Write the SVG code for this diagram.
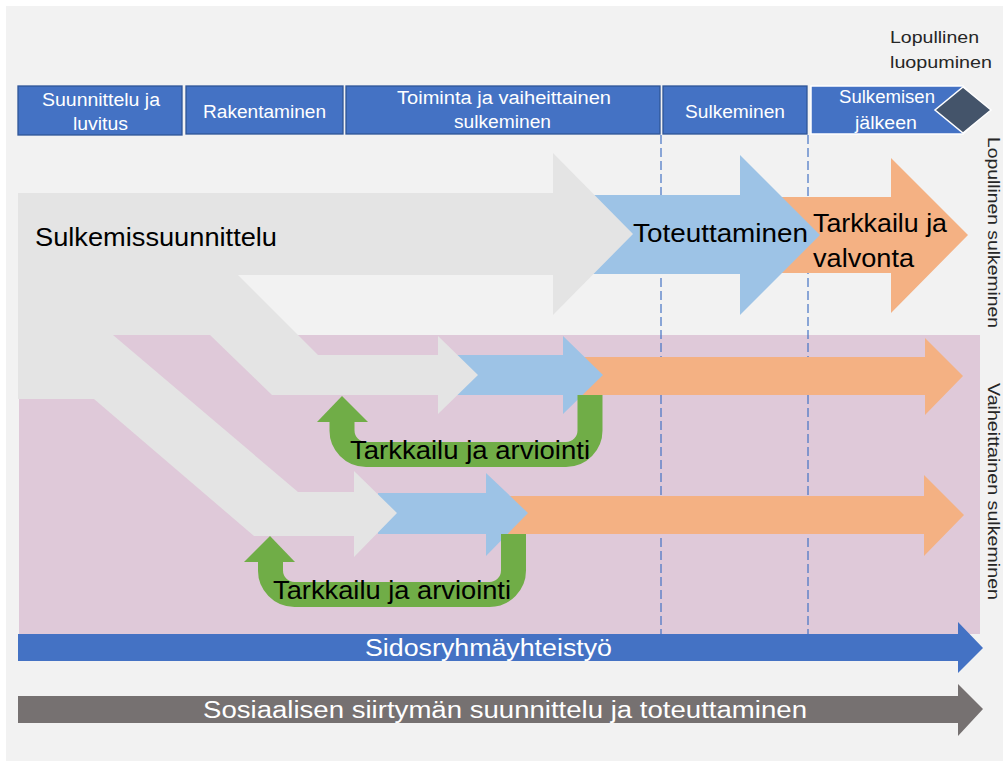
<svg xmlns="http://www.w3.org/2000/svg" width="1003" height="765" viewBox="0 0 1003 765">
<style>
text{font-family:"Liberation Sans",Arial,sans-serif}
.ph{fill:#4472c4;stroke:#2f5597;stroke-width:1.3}
.phw{fill:#4472c4;stroke:#ffffff;stroke-width:1.5}
.pt{fill:#ffffff;font-size:18px;text-anchor:middle}
.big{fill:#000000;font-size:26px}
.mid{fill:#000000;font-size:25px}
.side{fill:#262626;font-size:17px;text-anchor:middle}
.gray{fill:#e4e4e4}
.blue{fill:#9dc3e6}
.orange{fill:#f4b183}
.dash{stroke:#4472c4;stroke-width:1.2;stroke-dasharray:9 4;fill:none}
.loop{fill:none;stroke:#70ad47;stroke-width:25}
.loophead{fill:#70ad47}
.band{font-size:23px;fill:#ffffff}
</style>
<rect x="6" y="6" width="997" height="755" fill="#f2f2f2"/>
<rect id="phased-area" x="19" y="335" width="961" height="299" fill="#dfc9d9"/>
<g id="guides">
<line class="dash" x1="661" y1="135" x2="661" y2="634"/>
<line class="dash" x1="808" y1="135" x2="808" y2="634"/>
</g>
<g id="phases">
<g id="phase-1"><rect class="ph" x="18" y="86" width="164" height="49"/>
<text class="pt" x="101" y="106" textLength="118" lengthAdjust="spacingAndGlyphs">Suunnittelu ja</text>
<text class="pt" x="100.5" y="130" textLength="55" lengthAdjust="spacingAndGlyphs">luvitus</text></g>
<g id="phase-2"><rect class="ph" x="186" y="86" width="157" height="48"/>
<text class="pt" x="264.5" y="118" textLength="123" lengthAdjust="spacingAndGlyphs">Rakentaminen</text></g>
<g id="phase-3"><rect class="ph" x="346" y="86" width="314" height="48"/>
<text class="pt" x="504" y="104" textLength="214" lengthAdjust="spacingAndGlyphs">Toiminta ja vaiheittainen</text>
<text class="pt" x="502.5" y="128" textLength="97" lengthAdjust="spacingAndGlyphs">sulkeminen</text></g>
<g id="phase-4"><rect class="ph" x="663" y="86" width="144" height="48"/>
<text class="pt" x="735" y="118" textLength="100" lengthAdjust="spacingAndGlyphs">Sulkeminen</text></g>
<g id="phase-5"><polygon class="phw" points="811,86 963,86 987,110 963,134 811,134"/>
<text class="pt" x="887" y="103" textLength="96" lengthAdjust="spacingAndGlyphs">Sulkemisen</text>
<text class="pt" x="886" y="129" textLength="62" lengthAdjust="spacingAndGlyphs">jälkeen</text></g>
<g id="milestone"><polygon points="963,87 991,110 963,133 935,110" fill="#44546a" stroke="#ffffff" stroke-width="1.5"/>
<text x="890" y="43" font-size="16" fill="#262626" textLength="89" lengthAdjust="spacingAndGlyphs">Lopullinen</text>
<text x="890" y="68" font-size="16" fill="#262626" textLength="102" lengthAdjust="spacingAndGlyphs">luopuminen</text></g>
</g>
<g id="row-final">
<polygon id="final-monitoring" class="orange" points="780,197 891,197 891,158 968,235 891,313 891,273 780,273"/>
<polygon id="final-implementation" class="blue" points="560,195 740,195 740,155 820,235 740,315 740,274 560,274"/>
</g>
<g id="row-1">
<polygon id="row1-monitoring" class="orange" points="565,357 925,357 925,338 963,376 925,415 925,395 565,395"/>
<polygon id="row1-implementation" class="blue" points="440,355 563,355 563,336 603,375 563,414 563,395 440,395"/>
</g>
<g id="row-2">
<polygon id="row2-monitoring" class="orange" points="508,496 924,496 924,475 964,515 924,556 924,534 508,534"/>
<polygon id="row2-implementation" class="blue" points="378,493 486,493 486,473 528,513 486,556 486,534 378,534"/>
</g>
<g id="closure-planning">
<polygon class="gray" points="18,193 553,193 553,153 633,234 553,315 553,275 238,275 318,355 438,355 438,336 478,375 438,414 438,395 272,395 210,335 113,335 298,492 354,492 354,471 397,513 354,557 354,536 254,536 94,399 18,399"/>
<text class="big" x="35" y="246" textLength="242" lengthAdjust="spacingAndGlyphs">Sulkemissuunnittelu</text>
</g>
<g id="final-labels">
<text class="big" x="633" y="242" textLength="175" lengthAdjust="spacingAndGlyphs">Toteuttaminen</text>
<text class="big" x="813" y="232" textLength="134" lengthAdjust="spacingAndGlyphs">Tarkkailu ja</text>
<text class="big" x="813" y="267" textLength="101" lengthAdjust="spacingAndGlyphs">valvonta</text>
</g>
<g id="connectors">
<path class="loop" d="M342,420 V430 A24,24 0 0 0 366,454.5 H566 A24,24 0 0 0 590,430 V395"/>
<polygon class="loophead" points="317,422 342,396 368,422"/>
<path class="loop" d="M270.5,560 V570 A24,24 0 0 0 294.5,594.5 H489.5 A24,24 0 0 0 513.5,570 V534"/>
<polygon class="loophead" points="244,562 270,536 295,562"/>
</g>
<g id="loop-labels">
<text class="mid" x="350" y="459" textLength="240" lengthAdjust="spacingAndGlyphs">Tarkkailu ja arviointi</text>
<text class="mid" x="273" y="599" textLength="238" lengthAdjust="spacingAndGlyphs">Tarkkailu ja arviointi</text>
</g>
<g id="stakeholder">
<polygon fill="#4472c4" points="18,634 958,634 958,622 983,648 958,673 958,661 18,661"/>
<text class="band" x="365" y="656" textLength="247" lengthAdjust="spacingAndGlyphs">Sidosryhmäyhteistyö</text>
</g>
<g id="social-transition">
<polygon fill="#767171" points="18,696 958,696 958,684 983,709 958,736 958,723 18,723"/>
<text class="band" x="203" y="718" font-size="24" textLength="604" lengthAdjust="spacingAndGlyphs">Sosiaalisen siirtymän suunnittelu ja toteuttaminen</text>
</g>
<g id="side-labels">
<text class="side" transform="translate(988,232.5) rotate(90)" textLength="191" lengthAdjust="spacingAndGlyphs">Lopullinen sulkeminen</text>
<text class="side" transform="translate(988,491.5) rotate(90)" textLength="217" lengthAdjust="spacingAndGlyphs">Vaiheittainen sulkeminen</text>
</g>
</svg>
